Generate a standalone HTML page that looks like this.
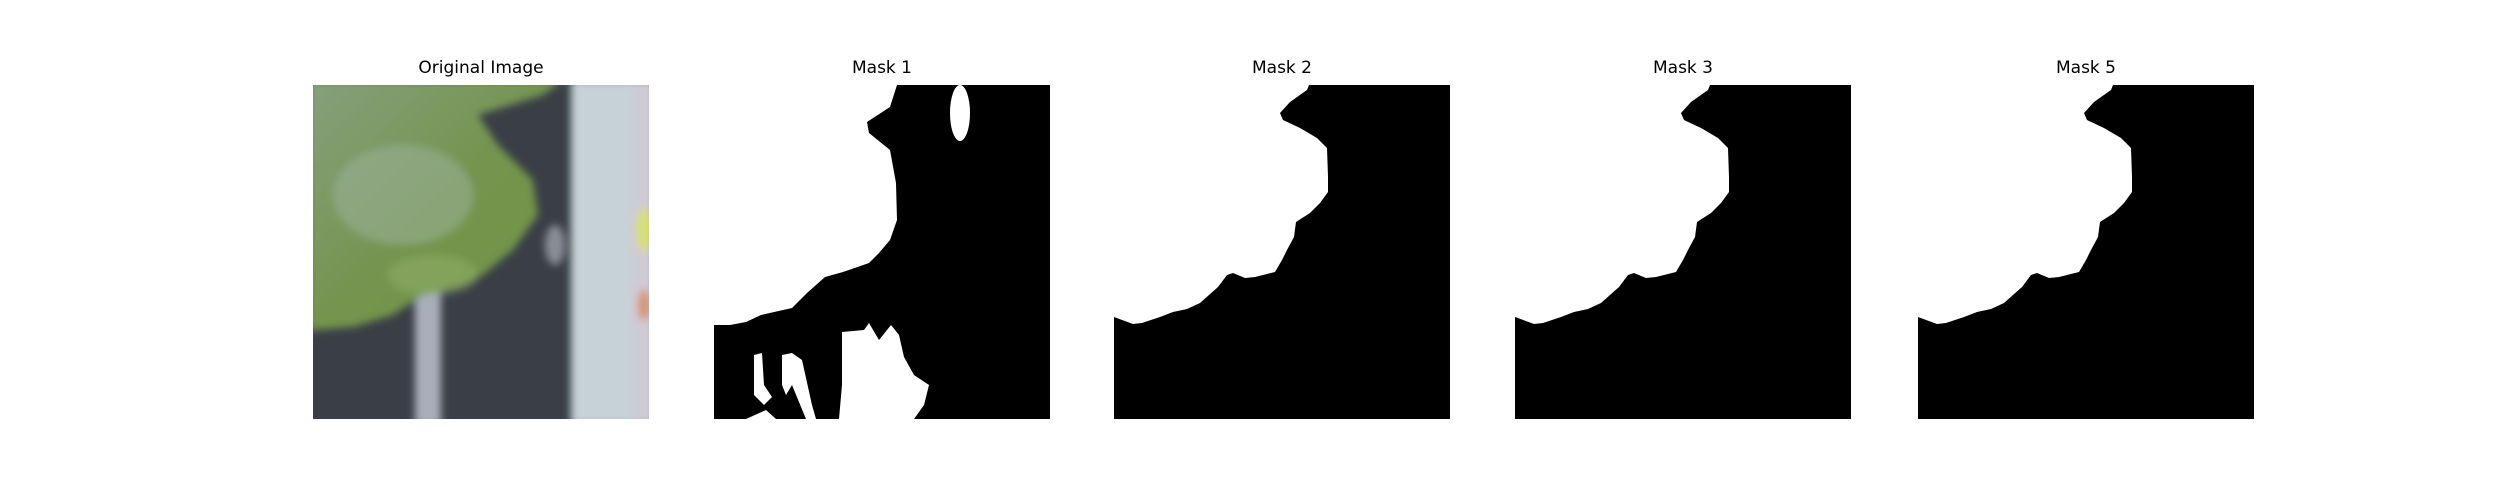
<!DOCTYPE html>
<html><head><meta charset="utf-8"><style>
html,body{margin:0;padding:0;background:#fff;width:2500px;height:500px;overflow:hidden}
.t{position:absolute;top:58px;width:336px;text-align:center;font:17px "DejaVu Sans","Liberation Sans",sans-serif;color:#000}
svg{position:absolute;top:85px}
</style></head><body>
<div id="root">
<div class="t" style="left:313px">Original Image</div>
<div class="t" style="left:714px">Mask 1</div>
<div class="t" style="left:1114px">Mask 2</div>
<div class="t" style="left:1515px">Mask 3</div>
<div class="t" style="left:1918px">Mask 5</div>

<svg style="left:313px" width="336" height="334" viewBox="0 0 336 334">
<defs><filter id="b"><feGaussianBlur stdDeviation="4"/></filter>
<linearGradient id="lg" x1="0" y1="0" x2="1" y2="1"><stop offset="0" stop-color="#86a07e"/><stop offset="0.5" stop-color="#75944f"/><stop offset="1" stop-color="#6f9340"/></linearGradient></defs>
<rect width="336" height="334" fill="#3a3f47"/>
<g filter="url(#b)">
<rect x="258" y="-5" width="62" height="345" fill="#c6d2d6"/>
<rect x="318" y="-5" width="24" height="345" fill="#cfcbd6"/>
<rect x="102" y="190" width="26" height="150" fill="#a8aeba"/>
<ellipse cx="242" cy="160" rx="10" ry="20" fill="#8a8d96"/>
<ellipse cx="331" cy="145" rx="8" ry="22" fill="#d8df70"/>
<ellipse cx="331" cy="220" rx="6" ry="16" fill="#d8906a"/>
<path d="M-5,-5 L250,-5 L230,10 L165,30 L185,60 L220,95 L225,130 L200,165 L170,190 L150,200 L110,210 L80,230 L40,242 L0,245 L-5,245 Z" fill="url(#lg)"/>
<ellipse cx="90" cy="110" rx="70" ry="50" fill="#9fb3a0" opacity="0.5"/>
<ellipse cx="120" cy="190" rx="45" ry="20" fill="#93b06a" opacity="0.5"/>
</g>
</svg>

<svg style="left:714px" width="336" height="334" viewBox="0 0 336 334">
<rect width="336" height="334" fill="#000"/>
<path d="M0,0 L183,0 L176,22 L153,37 L155,48 L176,65 L182,98 L183,135 L176,155 L165,168 L155,178 L129,187 L111,192 L93,208 L78,223 L47,230 L32,237 L16,240 L0,240 Z" fill="#fff"/>
<ellipse cx="246" cy="28" rx="10" ry="28" fill="#fff"/>
<path d="M128,247 L150,245 L155,238 L165,255 L177,240 L185,250 L190,272 L200,290 L215,300 L210,320 L200,334 L125,334 L128,300 Z" fill="#fff"/>
<path d="M40,270 L48,268 L50,300 L58,312 L50,320 L40,310 Z" fill="#fff"/>
<path d="M68,270 L78,268 L88,275 L98,320 L102,334 L92,334 L78,300 L72,310 L68,300 Z" fill="#fff"/>
<path d="M32,334 L52,325 L62,334 Z" fill="#fff"/>
</svg>

<svg style="left:1114px" width="336" height="334" viewBox="0 0 336 334">
<rect width="336" height="334" fill="#000"/>
<path d="M0,0 L195,0 L193,5 L176,17 L166,28 L169,35 L186,43 L203,53 L213,63 L214,92 L214,107 L206,118 L196,128 L182,137 L180,152 L173,165 L168,175 L161,187 L141,192 L131,193 L119,188 L113,190 L104,202 L86,218 L73,224 L59,227 L46,232 L28,238 L19,239 L0,232 Z" fill="#fff"/>
</svg>
<svg style="left:1515px" width="336" height="334" viewBox="0 0 336 334">
<rect width="336" height="334" fill="#000"/>
<path d="M0,0 L195,0 L193,5 L176,17 L166,28 L169,35 L186,43 L203,53 L213,63 L214,92 L214,107 L206,118 L196,128 L182,137 L180,152 L173,165 L168,175 L161,187 L141,192 L131,193 L119,188 L113,190 L104,202 L86,218 L73,224 L59,227 L46,232 L28,238 L19,239 L0,232 Z" fill="#fff"/>
</svg>
<svg style="left:1918px" width="336" height="334" viewBox="0 0 336 334">
<rect width="336" height="334" fill="#000"/>
<path d="M0,0 L195,0 L193,5 L176,17 L166,28 L169,35 L186,43 L203,53 L213,63 L214,92 L214,107 L206,118 L196,128 L182,137 L180,152 L173,165 L168,175 L161,187 L141,192 L131,193 L119,188 L113,190 L104,202 L86,218 L73,224 L59,227 L46,232 L28,238 L19,239 L0,232 Z" fill="#fff"/>
</svg>
</div>
</body></html>
